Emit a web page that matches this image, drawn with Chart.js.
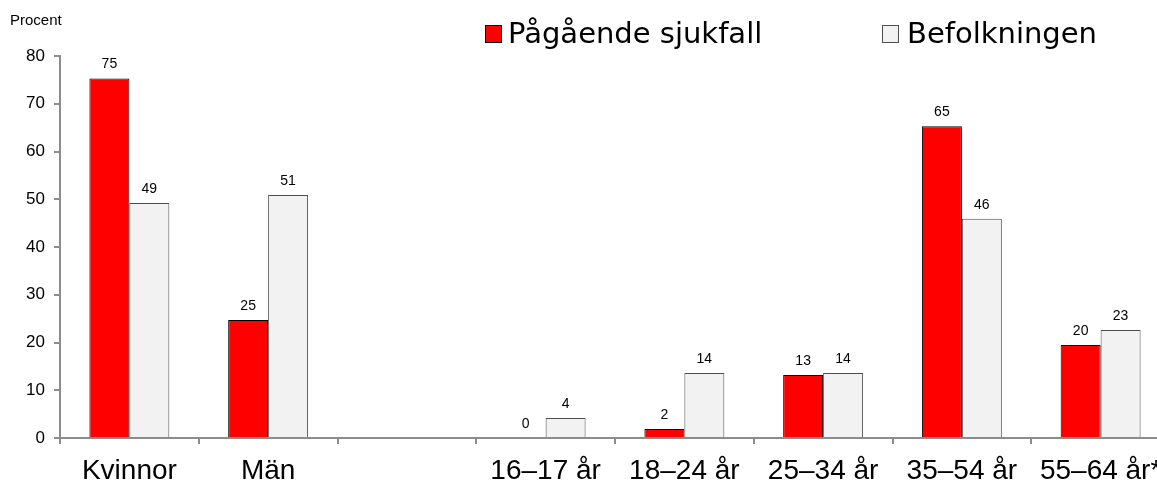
<!DOCTYPE html>
<html><head><meta charset="utf-8">
<script src="https://cdn.jsdelivr.net/npm/chart.js@4"></script>
<style>html,body{margin:0;padding:0;overflow:hidden;background:#fff}#wrap{position:relative;width:1175px;height:485px}</style>
</head><body><div id="wrap"><canvas id="c"></canvas></div>
<script>
const categories = ['Kvinnor', 'Män', '', '16–17 år', '18–24 år', '25–34 år', '35–54 år', '55–64 år*'];
const sjukfall = [75.3, 24.7, null, 0, 1.9, 13.2, 65.3, 19.5];
const befolkningen = [49.2, 50.9, null, 4.2, 13.6, 13.6, 45.9, 22.6];
const seriesNames = ['Pågående sjukfall', 'Befolkningen'];
const yMin = 0, yMax = 80, yStep = 10;
const yAxisTitle = 'Procent';

const colors = [
  {fill: '#ff0000', border: '#000000'},
  {fill: '#f2f2f2', border: '#4d4d4d'}
];

const overlay = {
  id: 'overlay',
  afterDatasetsDraw(chart) {
    const ctx = chart.ctx;
    ctx.save();
    ctx.fillStyle = '#000';
    ctx.textAlign = 'center';
    ctx.textBaseline = 'alphabetic';
    ctx.font = '14px "Liberation Sans", Arial, sans-serif';
    chart.data.datasets.forEach((ds, i) => {
      chart.getDatasetMeta(i).data.forEach((bar, j) => {
        const v = ds.data[j];
        if (v === null || v === undefined) return;
        ctx.fillText(String(Math.round(v)), bar.x, bar.y - 10);
      });
    });
    // axis title
    ctx.textAlign = 'left';
    ctx.font = '15px "Liberation Sans", Arial, sans-serif';
    ctx.fillText(yAxisTitle, 10, 25);
    // legend
    const legendPos = [{sx: 485, tx: 508}, {sx: 882, tx: 907}];
    ctx.font = '29px "DejaVu Sans", sans-serif';
    chart.data.datasets.forEach((ds, i) => {
      const p = legendPos[i];
      ctx.fillStyle = ds.backgroundColor;
      ctx.fillRect(p.sx, 25, 16, 17);
      ctx.strokeStyle = ds.borderColor;
      ctx.lineWidth = 1;
      ctx.strokeRect(p.sx + 0.5, 25.5, 16, 17);
      ctx.fillStyle = '#000';
      ctx.fillText(ds.label, p.tx, 43);
    });
    ctx.restore();
  }
};

new Chart(document.getElementById('c'), {
  type: 'bar',
  data: {
    labels: categories,
    datasets: [
      {label: seriesNames[0], data: sjukfall, backgroundColor: colors[0].fill, borderColor: colors[0].border,
       borderWidth: c => (c.raw === 0 ? 0 : 1)},
      {label: seriesNames[1], data: befolkningen, backgroundColor: colors[1].fill, borderColor: colors[1].border,
       borderWidth: c => (c.raw === 0 ? 0 : 1)}
    ]
  },
  options: {
    responsive: true,
    maintainAspectRatio: false,
    animation: false,
    layout: {padding: {top: 56, left: 0, right: 5, bottom: 0}},
    categoryPercentage: 0.576,
    barPercentage: 1.0,
    plugins: {legend: {display: false}, tooltip: {enabled: false}},
    scales: {
      x: {
        grid: {drawOnChartArea: false, drawTicks: true, tickLength: 6, color: '#8c8c8c', lineWidth: 2, offset: true},
        border: {color: '#8c8c8c', width: 2},
        ticks: {color: '#000', font: {family: '"Liberation Sans", Arial, sans-serif', size: 28}, padding: 10, maxRotation: 0, autoSkip: false},
        afterFit: s => { s.height = 47; }
      },
      y: {
        min: yMin, max: yMax,
        grid: {drawOnChartArea: false, drawTicks: true, tickLength: 6, color: '#8c8c8c', lineWidth: 2},
        border: {color: '#8c8c8c', width: 2},
        ticks: {stepSize: yStep, color: '#000', font: {family: '"Liberation Sans", Arial, sans-serif', size: 17}, padding: 9},
        afterFit: s => { s.width = 60; }
      }
    }
  },
  plugins: [overlay]
});
</script></body></html>
